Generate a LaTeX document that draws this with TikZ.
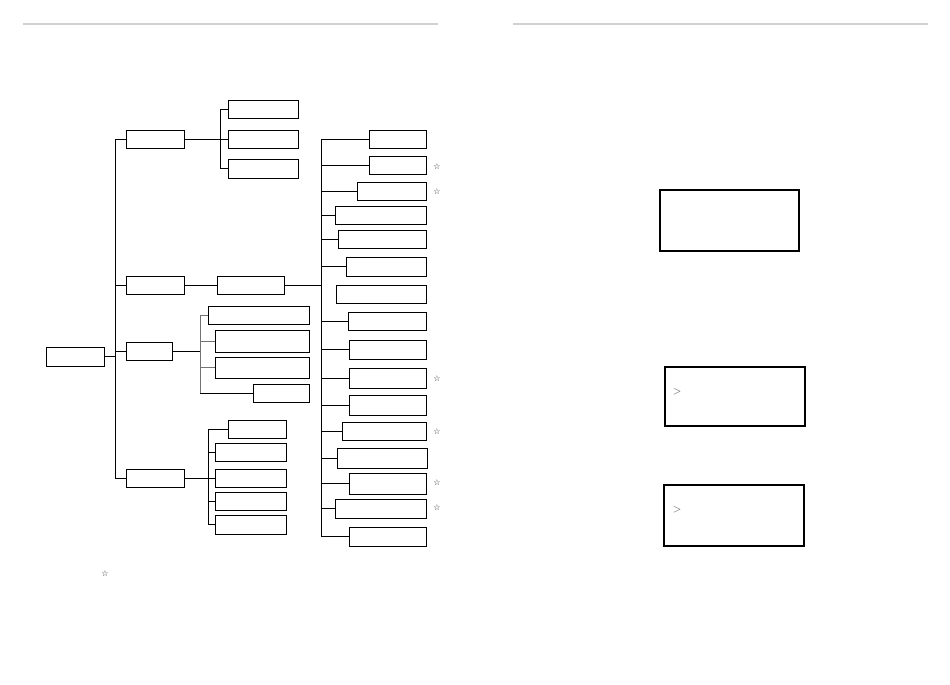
\documentclass[tikz,border=0pt]{standalone}
\usepackage{fontspec}
\newfontfamily\starfont{DejaVu Sans}

\begin{document}
\begin{tikzpicture}[x=1pt,y=-1pt,line width=0.9pt, box/.style={rectangle,draw=black,inner sep=0,minimum height=18}, screen/.style={rectangle,draw=black,line width=2.2pt,inner sep=0,minimum height=60}, starnote/.style={inner sep=0,font=\starfont\fontsize{8}{8}\selectfont,text=black!85}, cursor/.style={inner sep=0,font=\fontsize{11}{11}\selectfont,text=black!70}, rule/.style={draw=black!18,line width=2pt}]
  \useasboundingbox (0,0) rectangle (950,685);
  \draw [rule] (23,24) -- (438,24);
  \draw [rule] (513,24) -- (928,24);
  % tree, left page
  \node (root) [box,minimum width=58,minimum height=19] at (75,356.5) {};
  \node (b1) [box,minimum width=58] at (155,139) {};
  \node (b2) [box,minimum width=58] at (155,285) {};
  \node (b3) [box,minimum width=46] at (149,351) {};
  \node (b4) [box,minimum width=58] at (155,478) {};
  \node (a1) [box,minimum width=70] at (263,109) {};
  \node (a2) [box,minimum width=70] at (263,139) {};
  \node (a3) [box,minimum width=70,minimum height=19] at (263,168.5) {};
  \node (c) [box,minimum width=67] at (250.5,285) {};
  \node (d1) [box,anchor=east,minimum width=101] at (310,315) {};
  \node (d2) [box,anchor=east,minimum width=94,minimum height=22] at (310,341) {};
  \node (d3) [box,anchor=east,minimum width=94,minimum height=21] at (310,367.5) {};
  \node (d4) [box,anchor=east,minimum width=56] at (310,393) {};
  \node (e1) [box,anchor=east,minimum width=58] at (287,429) {};
  \node (e2) [box,anchor=east,minimum width=71] at (287,452) {};
  \node (e3) [box,anchor=east,minimum width=71] at (287,478) {};
  \node (e4) [box,anchor=east,minimum width=71] at (287,501) {};
  \node (e5) [box,anchor=east,minimum width=71,minimum height=19] at (287,524.5) {};
  \node (r1) [box,anchor=east,minimum width=57] at (427,139) {};
  \node (r2) [box,anchor=east,minimum width=57] at (427,165) {};
  \node (r3) [box,anchor=east,minimum width=69] at (427,191) {};
  \node (r4) [box,anchor=east,minimum width=91] at (427,215) {};
  \node (r5) [box,anchor=east,minimum width=88] at (427,239) {};
  \node (r6) [box,anchor=east,minimum width=80,minimum height=19] at (427,266.5) {};
  \node (r7) [box,anchor=east,minimum width=90] at (427,294) {};
  \node (r8) [box,anchor=east,minimum width=78] at (427,321) {};
  \node (r9) [box,anchor=east,minimum width=77,minimum height=19] at (427,349.5) {};
  \node (r10) [box,anchor=east,minimum width=77,minimum height=20] at (427,378) {};
  \node (r11) [box,anchor=east,minimum width=77,minimum height=20] at (427,405) {};
  \node (r12) [box,anchor=east,minimum width=84] at (427,431) {};
  \node (r13) [box,anchor=east,minimum width=90,minimum height=20] at (428,458) {};
  \node (r14) [box,anchor=east,minimum width=77,minimum height=21] at (427,483.5) {};
  \node (r15) [box,anchor=east,minimum width=91,minimum height=19] at (427,508.5) {};
  \node (r16) [box,anchor=east,minimum width=77,minimum height=19] at (427,536.5) {};
  \node (st2) [starnote] at (437,167) {☆};
  \node (st3) [starnote] at (437,192) {☆};
  \node (st10) [starnote] at (437,379) {☆};
  \node (st12) [starnote] at (437,432) {☆};
  \node (st14) [starnote] at (437,483) {☆};
  \node (st15) [starnote] at (437,508) {☆};
  \node (stnote) [starnote] at (105,574) {☆};
  \coordinate (jm) at (115,0);
  \coordinate (ja) at (220,0);
  \coordinate (jd) at (200,0);
  \coordinate (je) at (208,0);
  \coordinate (jr) at (321,0);
  \draw (root.east) -- (jm |- root);
  \draw (b1.west) -| (jm |- b4) -- (b4.west);
  \draw (b2.west) -- (jm |- b2);
  \draw (b3.west) -- (jm |- b3);
  \draw (b1.east) -- (a2.west);
  \draw (a1.west) -| (ja |- a3) -- (a3.west);
  \draw (b2.east) -- (c.west);
  \draw (c.east) -- (jr |- c);
  \draw (r1.west) -| (jr |- r16) -- (r16.west);
  \foreach \i in {2,...,6,8,9,...,15}
    \draw (r\i.west) -- (jr |- r\i);
  \draw (b3.east) -- (jd |- b3);
  \draw [black!55] (d1.west) -| (jd |- d4);
  \draw [black!55] (d2.west) -- (jd |- d2);
  \draw [black!55] (d3.west) -- (jd |- d3);
  \draw (jd |- d4) -- (d4.west);
  \draw (b4.east) -- (e3.west);
  \draw (e1.west) -| (je |- e5) -- (e5.west);
  \draw (e2.west) -- (je |- e2);
  \draw (e4.west) -- (je |- e4);
  % screens, right page
  \node (lcd1) [screen,minimum width=139,minimum height=61] at (729.5,220.5) {};
  \node (lcd2) [screen,minimum width=140,minimum height=59] at (735,396.5) {};
  \node (lcd3) [screen,minimum width=140,minimum height=61] at (734,515.5) {};
  \node (cur2) [cursor] at (677,392) {$>$};
  \node (cur3) [cursor] at (677,510) {$>$};
\end{tikzpicture}
\end{document}
